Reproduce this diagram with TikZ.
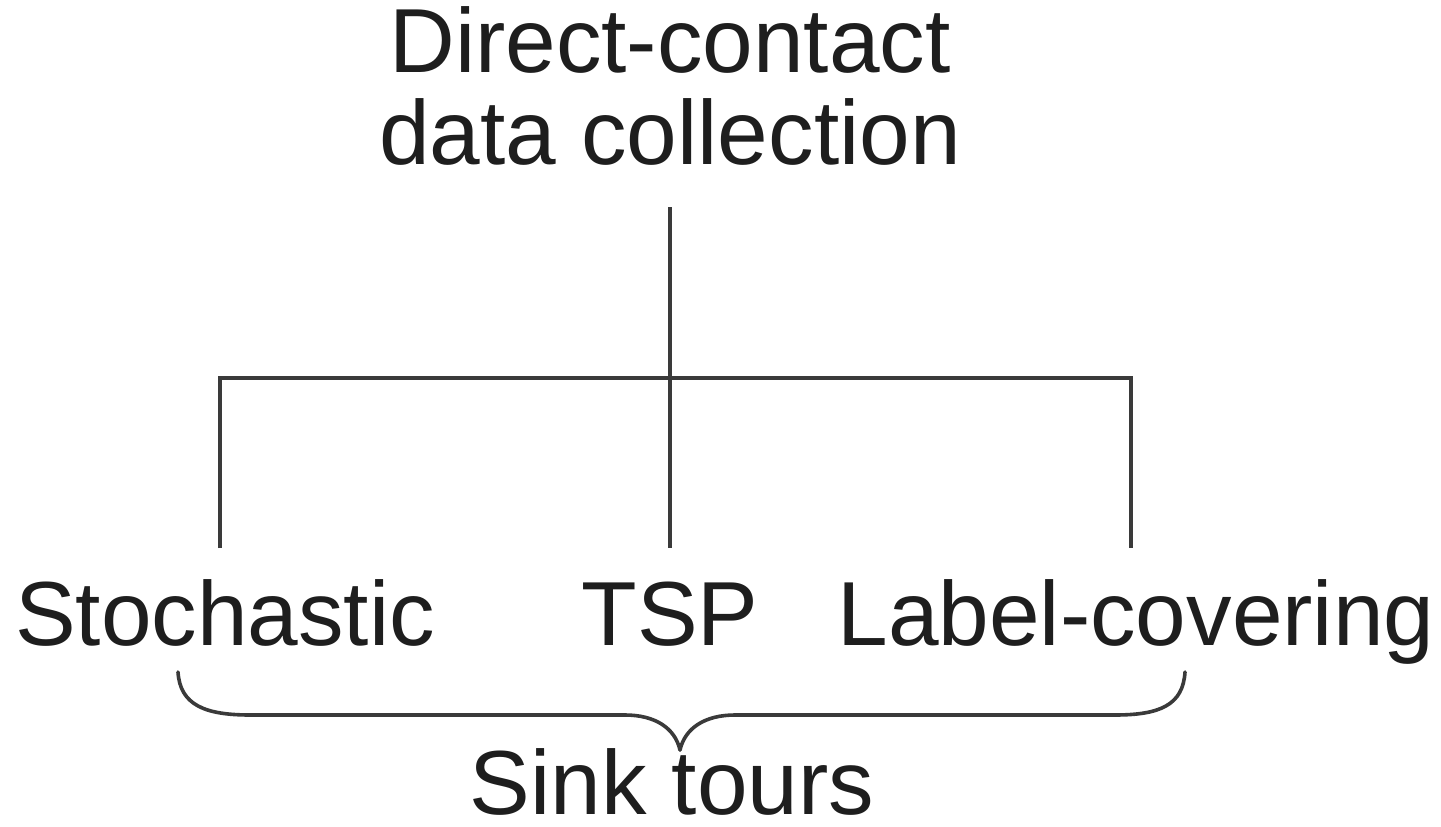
\documentclass[tikz,border=0pt]{standalone}
\usepackage{fontspec}
\setmainfont{Liberation Sans}
\definecolor{ink}{HTML}{1E1E1E}
\definecolor{rule}{HTML}{3A3A3A}
\begin{document}
\begin{tikzpicture}[x=1pt,y=-1pt,
  lbl/.style={inner sep=0pt, outer sep=0pt, text=ink, font=\fontsize{91}{92}\selectfont},
  conn/.style={draw=rule, line width=4pt},
  bracepath/.style={draw=rule, line width=3.6pt, line cap=round, line join=round}]
\useasboundingbox[fill=white] (0,0) rectangle (1441,827);
% nodes
\node[lbl, align=center, anchor=south] (title) at (670,165) {Direct-contact\\data collection};
\node[lbl, anchor=base] (sto) at (225,645) {Stochastic};
\node[lbl, anchor=base] (tsp) at (670,645) {TSP};
\node[lbl, anchor=base] (lab) at (1136,645) {Label-covering};
\node[lbl, anchor=base] (sink) at (672,814) {Sink tours};
% tree connectors
\coordinate (top) at ([yshift=-42pt]title.south);
\coordinate (junc) at (670,378);
\draw[conn] (top) -- (670,548);
\draw[conn] (220,548) |- (junc) -| (1131,548);
% brace
\coordinate (bl) at (178,672);
\coordinate (br) at (1185,672);
\coordinate (tip) at (680,750);
\draw[bracepath] (bl) .. controls (180,705) and (205,715) .. (250,715)
  -- (625,715) .. controls (655,715) and (675,728) .. (tip);
\draw[bracepath] (br) .. controls (1183,705) and (1160,715) .. (1115,715)
  -- (735,715) .. controls (705,715) and (685,728) .. (tip);
\end{tikzpicture}
\end{document}
